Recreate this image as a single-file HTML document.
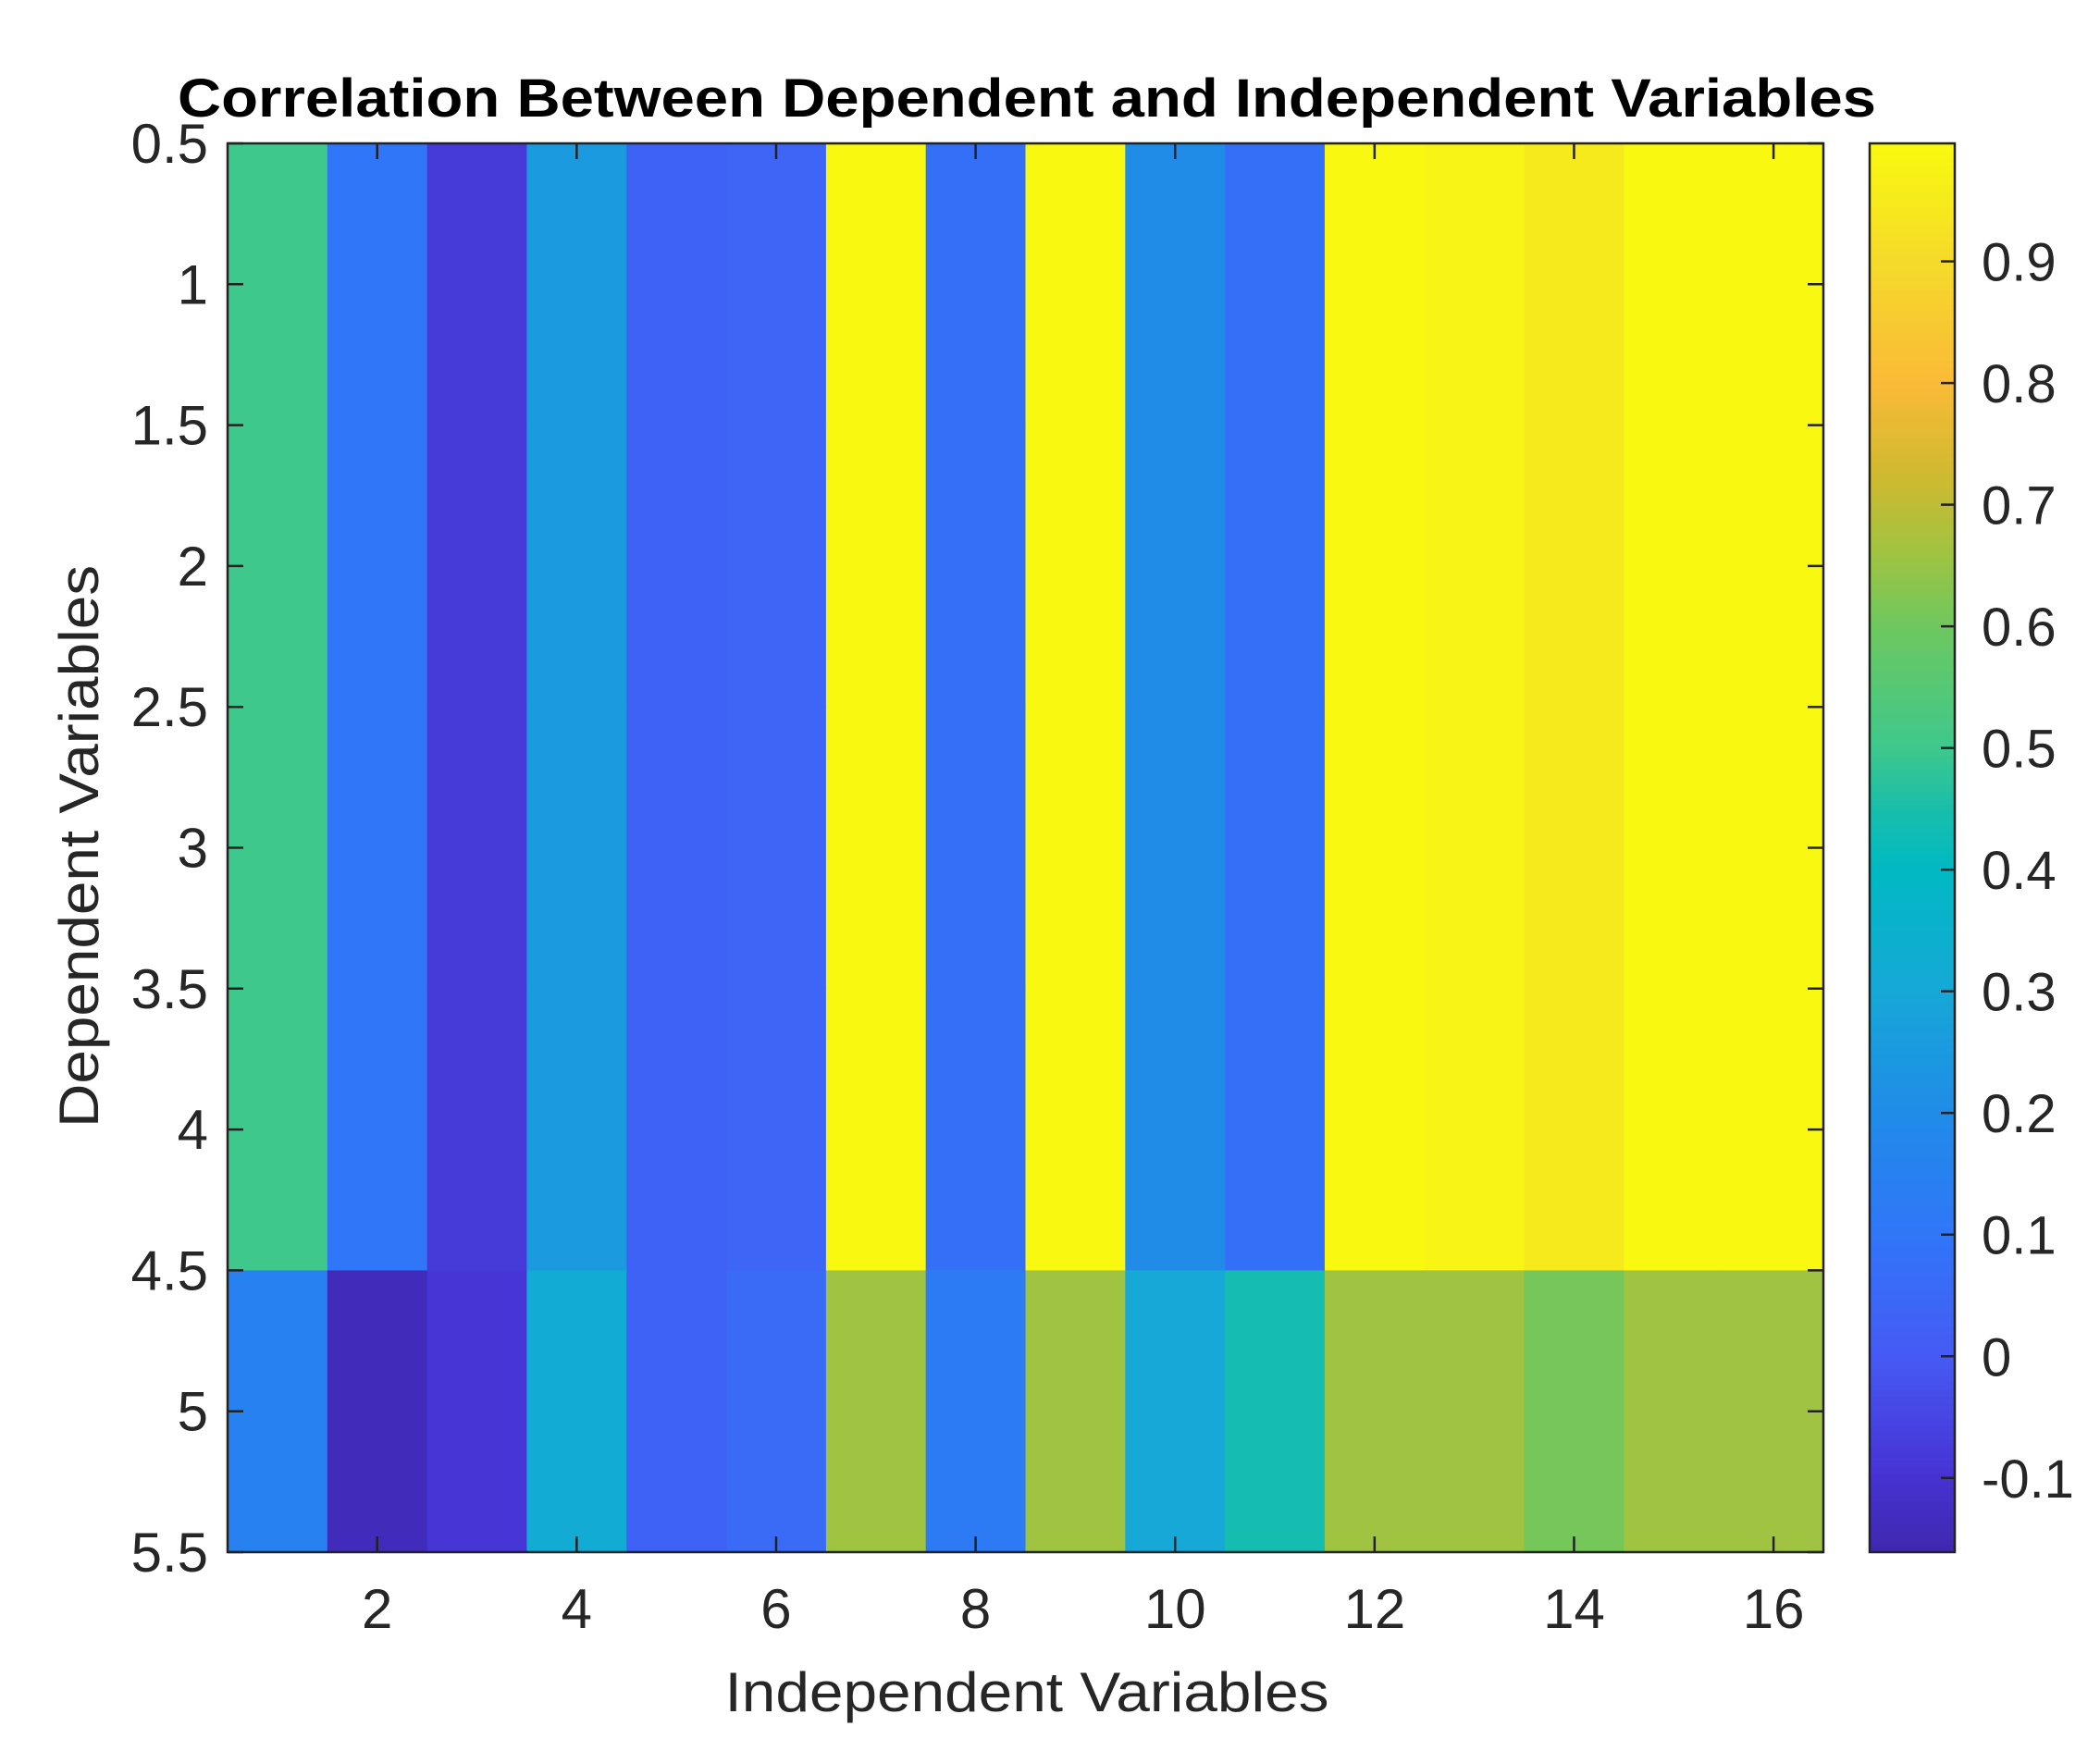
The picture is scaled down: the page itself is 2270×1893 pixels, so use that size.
<!DOCTYPE html>
<html><head><meta charset="utf-8"><style>
html,body{margin:0;padding:0;background:#fff;}
svg{display:block;font-family:"Liberation Sans",Arial,sans-serif;}
</style></head><body>
<svg id="chart" width="2270" height="1893" viewBox="0 0 2270 1893" xmlns="http://www.w3.org/2000/svg">
<text x="1110" y="126" text-anchor="middle" font-size="58" font-weight="bold" fill="#000" textLength="1836" lengthAdjust="spacingAndGlyphs">Correlation Between Dependent and Independent Variables</text>
<g id="cells"></g>
<g id="cbar"></g>
<g id="axes"></g>
<text x="1110" y="1850" text-anchor="middle" font-size="60" fill="#262626" textLength="653" lengthAdjust="spacingAndGlyphs">Independent Variables</text>
<text x="0" y="0" transform="translate(106,915) rotate(-90)" text-anchor="middle" font-size="60" fill="#262626" textLength="608" lengthAdjust="spacingAndGlyphs">Dependent Variables</text>
</svg>
<script>
const columns = [1,2,3,4,5,6,7,8,9,10,11,12,13,14,15,16];
const rowsDep = [1,2,3,4,5];
const rowUpper = [0.50,0.10,-0.08,0.25,0.03,0.04,0.99,0.08,0.99,0.20,0.08,0.99,0.98,0.95,0.99,0.99];
const rowBottom = [0.15,-0.14,-0.09,0.32,0.03,0.06,0.66,0.12,0.66,0.30,0.44,0.66,0.66,0.61,0.66,0.66];
const values = [rowUpper,rowUpper,rowUpper,rowUpper,rowBottom];
const xTicks = [2,4,6,8,10,12,14,16];
const yTicks = [0.5,1,1.5,2,2.5,3,3.5,4,4.5,5,5.5];
const cTicks = [-0.1,0,0.1,0.2,0.3,0.4,0.5,0.6,0.7,0.8,0.9];
const cLabels = ["-0.1","0","0.1","0.2","0.3","0.4","0.5","0.6","0.7","0.8","0.9"];
const cMin = -0.161, cMax = 0.997;

const L=246,R=1971,T=155,B=1678,CBL=2021,CBR=2113;
const NS="http://www.w3.org/2000/svg";
const xs = v => L + (v-0.5)/(columns.length)*(R-L);
const ys = v => T + (v-0.5)/(rowsDep.length)*(B-T);
const cs = v => B - (v-cMin)/(cMax-cMin)*(B-T);
const stops=[[-0.17,[62,38,168]],[-0.1,[70,50,210]],[0,[70,90,245]],[0.1,[48,118,248]],[0.2,[32,140,232]],[0.3,[22,168,215]],[0.4,[0,185,195]],[0.45,[25,190,170]],[0.5,[62,200,140]],[0.6,[110,200,95]],[0.66,[160,195,65]],[0.72,[205,186,48]],[0.8,[250,186,55]],[0.9,[245,218,42]],[1.0,[249,251,14]]];
function parula(v){if(v<=stops[0][0])return `rgb(${stops[0][1].join(',')})`;for(let i=1;i<stops.length;i++){if(v<=stops[i][0]){const a=stops[i-1],b=stops[i];const f=(v-a[0])/(b[0]-a[0]);const c=a[1].map((x,k)=>Math.round(x+(b[1][k]-x)*f));return `rgb(${c.join(',')})`;}}return 'rgb(249,251,14)';}
function mk(tag,attrs,parent){const e=document.createElementNS(NS,tag);for(const k in attrs)e.setAttribute(k,attrs[k]);parent.appendChild(e);return e;}
const cells=document.getElementById('cells');
values.forEach((row,r)=>row.forEach((v,c)=>{
  const x0=xs(columns[c]-0.5),x1=xs(columns[c]+0.5),y0=ys(rowsDep[r]-0.5),y1=ys(rowsDep[r]+0.5);
  const rc=mk('rect',{x:x0,y:y0,width:x1-x0+0.5,height:y1-y0+0.5,fill:parula(v)},cells);
  
  
}));
const cb=document.getElementById('cbar');
const N=200;
for(let i=0;i<N;i++){const y0=T+(B-T)*i/N;const v=cMax-(i+0.5)/N*(cMax-cMin);
  const s=mk('rect',{x:CBL,y:y0,width:CBR-CBL,height:(B-T)/N+0.6,fill:parula(v)},cb);
  
  }
const cbf=mk('rect',{x:CBL,y:T,width:CBR-CBL,height:B-T,fill:'none',stroke:'#222',"stroke-width":2.5},cb);


cTicks.forEach((v,i)=>{const y=cs(v);
  mk('line',{x1:CBR-15,x2:CBR,y1:y,y2:y,stroke:'#222',"stroke-width":2.5},cb);
  const t=mk('text',{x:2142,y:y+21,"font-size":58,fill:'#262626'},cb);t.textContent=cLabels[i];
  
  });
const ax=document.getElementById('axes');
const fr=mk('rect',{x:L,y:T,width:R-L,height:B-T,fill:'none',stroke:'#222',"stroke-width":2.5},ax);


xTicks.forEach(v=>{const x=xs(v);
  mk('line',{x1:x,x2:x,y1:B,y2:B-17,stroke:'#222',"stroke-width":2.5},ax);
  mk('line',{x1:x,x2:x,y1:T,y2:T+17,stroke:'#222',"stroke-width":2.5},ax);
  const t=mk('text',{x:x,y:B+82,"text-anchor":"middle","font-size":60,fill:'#262626'},ax);t.textContent=v;
  
  });
yTicks.forEach(v=>{const y=ys(v);
  mk('line',{x1:L,x2:L+17,y1:y,y2:y,stroke:'#222',"stroke-width":2.5},ax);
  mk('line',{x1:R,x2:R-17,y1:y,y2:y,stroke:'#222',"stroke-width":2.5},ax);
  const t=mk('text',{x:225,y:y+21,"text-anchor":"end","font-size":60,fill:'#262626'},ax);t.textContent=v;
  
  });
</script>
</body></html>
